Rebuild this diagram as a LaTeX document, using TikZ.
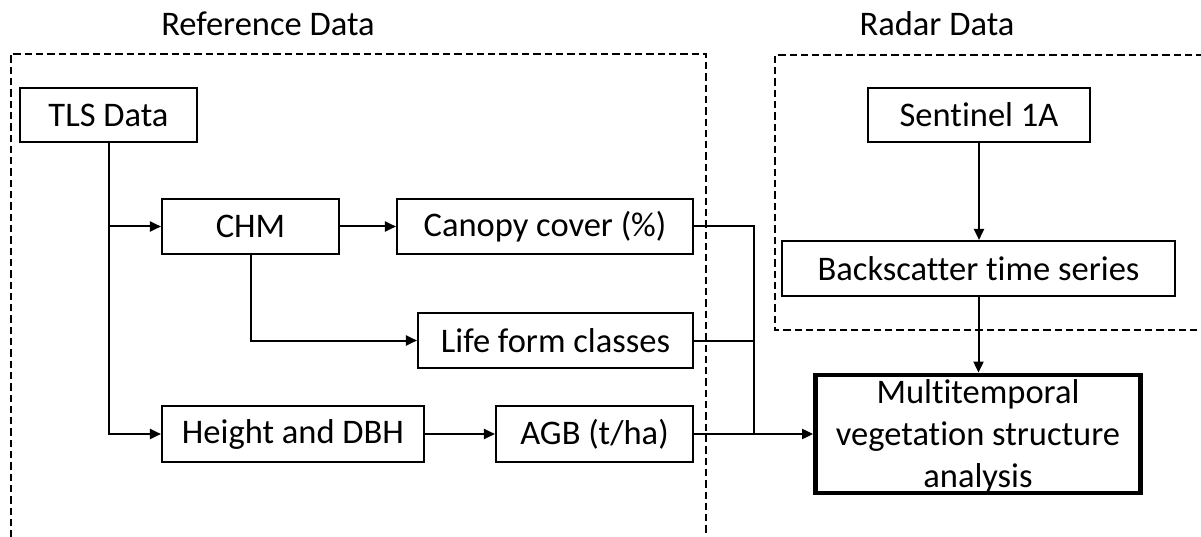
\documentclass[tikz,border=0pt]{standalone}
\usepackage{fontspec}
\setmainfont{Carlito}[Ligatures=NoCommon]
\usetikzlibrary{arrows.meta}
\begin{document}
\begin{tikzpicture}[x=1pt,y=-1pt,
  box/.style={draw, line width=2.1pt, inner sep=0pt, font=\fontsize{34.5}{42}\selectfont},
  link/.style={line width=2pt},
  arr/.style={link, -{Triangle[length=11pt,width=10pt]}},
  group/.style={line width=1.8pt, dash pattern=on 7.3pt off 4pt},
  title/.style={font=\fontsize{34.5}{42}\selectfont}]
\useasboundingbox (0,0) rectangle (1201,537);

% dashed group frames
\draw[group] (11,560) -- (11,54) -- (706,54) -- (706,560);
\draw[group] (1220,330) -- (775,330) -- (775,55) -- (1220,55);
\node[title] (reftitle) at (268,24) {Reference Data};
\node[title] (radtitle) at (937,24) {Radar Data};

% reference data chain
\node[box, minimum width=177pt, minimum height=54pt] (tls) at (108.5,115) {TLS Data};
\node[box, minimum width=177pt, minimum height=55pt] (chm) at (250.5,226.5) {CHM};
\node[box, minimum width=296pt, minimum height=55pt] (canopy) at (545,226.5) {Canopy cover (\%)};
\node[box, minimum width=275pt, minimum height=55pt] (life) at (555.5,340.5) {Life form classes};
\node[box, minimum width=262pt, minimum height=56pt] (height) at (293,434) {Height and DBH};
\node[box, minimum width=197pt, minimum height=56pt] (agb) at (594.5,434) {AGB (t/ha)};

% radar data chain
\node[box, minimum width=222pt, minimum height=54pt] (sent) at (979,115) {Sentinel 1A};
\node[box, minimum width=393pt, minimum height=55pt] (back) at (978.5,268.5) {Backscatter time series};

% analysis box (text slightly overflows the frame)
\node[draw, line width=4.8pt, minimum width=325pt, minimum height=118pt, inner sep=0pt] (multi) at (978,434) {};
\node[font=\fontsize{34.5}{42}\selectfont, align=center, inner sep=0pt] (multitext) at (978,436) {Multitemporal\\vegetation structure\\analysis};

% connectors
\coordinate (branch) at (tls.south |- chm.west);
\draw[arr] (tls.south) |- (height.west);
\draw[arr] (branch) -- (chm.west);
\draw[arr] (chm.east) -- (canopy.west);
\draw[arr] (chm.south) |- (life.west);
\draw[arr] (height.east) -- (agb.west);

\coordinate (join) at (754,434);
\draw[link] (canopy.east) -| (join);
\draw[link] (life.east) -- (life.east -| join);
\draw[arr] (agb.east) -- (multi.west);

\draw[arr] (sent.south) -- (sent.south |- back.north);
\draw[arr] (back.south) -- (back.south |- multi.north);
\end{tikzpicture}
\end{document}
